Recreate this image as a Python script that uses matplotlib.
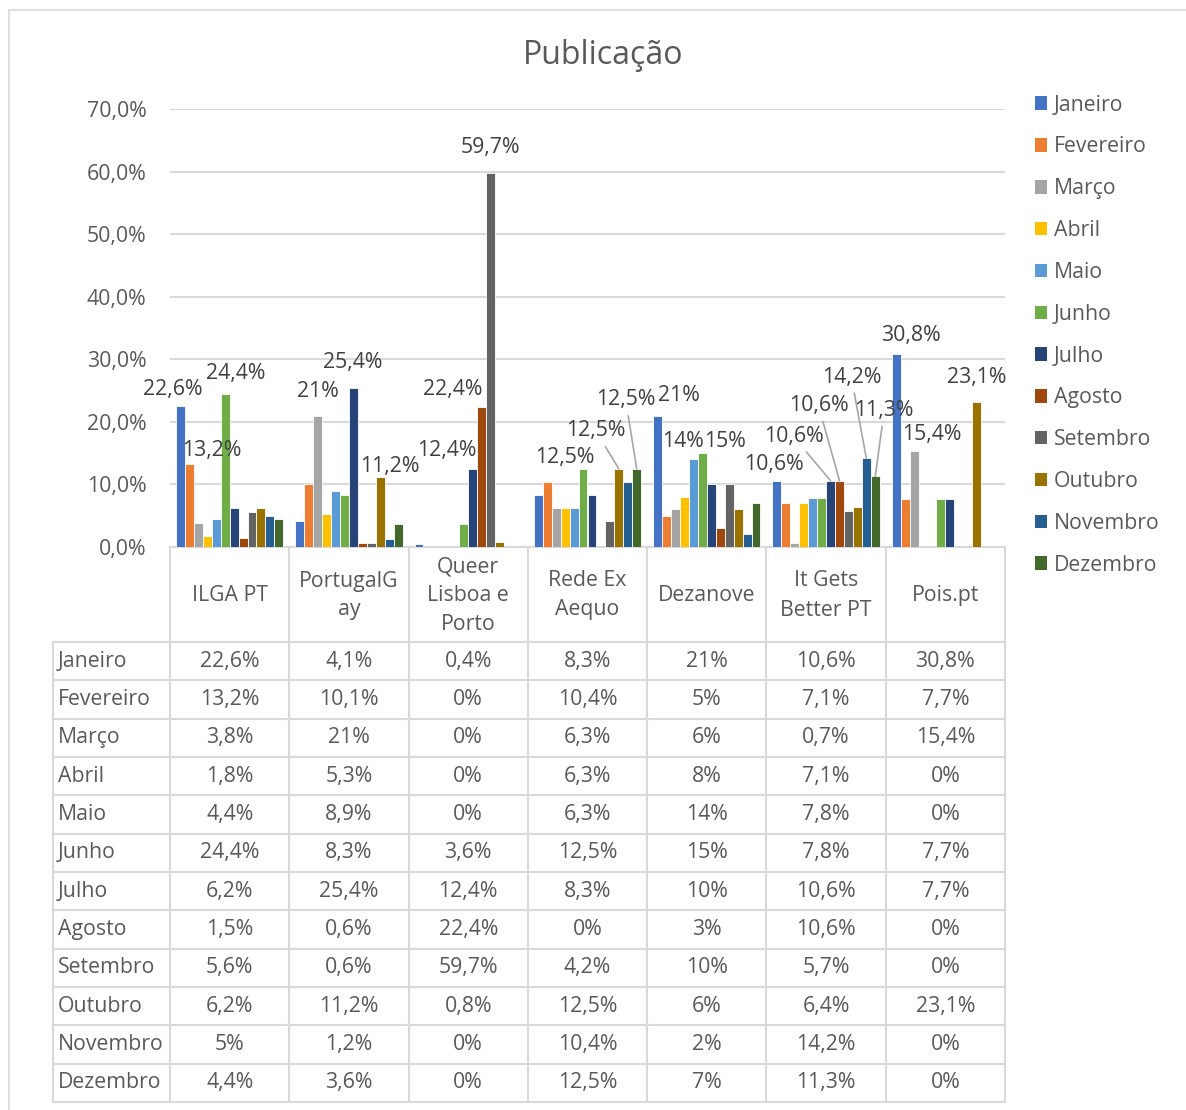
import matplotlib.pyplot as plt
from matplotlib.lines import Line2D
from matplotlib.patches import Patch
import numpy as np

plt.rcParams['font.family'] = ['Open Sans', 'DejaVu Sans']

# Sites (table header) and months (series)
sites = ["ILGA PT", "PortugalG\nay", "Queer\nLisboa e\nPorto", "Rede Ex\nAequo",
         "Dezanove", "It Gets\nBetter PT", "Pois.pt"]
months = ["Janeiro", "Fevereiro", "Março", "Abril", "Maio", "Junho", "Julho",
          "Agosto", "Setembro", "Outubro", "Novembro", "Dezembro"]

# values in %, one list per month, one value per site
janeiro = [22.6, 4.1, 0.4, 8.3, 21, 10.6, 30.8]
fevereiro = [13.2, 10.1, 0, 10.4, 5, 7.1, 7.7]
marco = [3.8, 21, 0, 6.3, 6, 0.7, 15.4]
abril = [1.8, 5.3, 0, 6.3, 8, 7.1, 0]
maio = [4.4, 8.9, 0, 6.3, 14, 7.8, 0]
junho = [24.4, 8.3, 3.6, 12.5, 15, 7.8, 7.7]
julho = [6.2, 25.4, 12.4, 8.3, 10, 10.6, 7.7]
agosto = [1.5, 0.6, 22.4, 0, 3, 10.6, 0]
setembro = [5.6, 0.6, 59.7, 4.2, 10, 5.7, 0]
outubro = [6.2, 11.2, 0.8, 12.5, 6, 6.4, 23.1]
novembro = [5, 1.2, 0, 10.4, 2, 14.2, 0]
dezembro = [4.4, 3.6, 0, 12.5, 7, 11.3, 0]
series = [janeiro, fevereiro, marco, abril, maio, junho, julho,
          agosto, setembro, outubro, novembro, dezembro]

# table text exactly as shown (Excel formatting differs per column)
table_text = [
    ["22,6%", "4,1%", "0,4%", "8,3%", "21%", "10,6%", "30,8%"],
    ["13,2%", "10,1%", "0%", "10,4%", "5%", "7,1%", "7,7%"],
    ["3,8%", "21%", "0%", "6,3%", "6%", "0,7%", "15,4%"],
    ["1,8%", "5,3%", "0%", "6,3%", "8%", "7,1%", "0%"],
    ["4,4%", "8,9%", "0%", "6,3%", "14%", "7,8%", "0%"],
    ["24,4%", "8,3%", "3,6%", "12,5%", "15%", "7,8%", "7,7%"],
    ["6,2%", "25,4%", "12,4%", "8,3%", "10%", "10,6%", "7,7%"],
    ["1,5%", "0,6%", "22,4%", "0%", "3%", "10,6%", "0%"],
    ["5,6%", "0,6%", "59,7%", "4,2%", "10%", "5,7%", "0%"],
    ["6,2%", "11,2%", "0,8%", "12,5%", "6%", "6,4%", "23,1%"],
    ["5%", "1,2%", "0%", "10,4%", "2%", "14,2%", "0%"],
    ["4,4%", "3,6%", "0%", "12,5%", "7%", "11,3%", "0%"],
]

colors = ["#4472C4", "#ED7D31", "#A5A5A5", "#FFC000", "#5B9BD5", "#70AD47",
          "#264478", "#9E480E", "#636363", "#997300", "#255E91", "#43682B"]

# labelled bars: (site, month, label, dx px, dy px, leader line)
labels = [
    (0, 0, "22,6%", -8, 16, False), (0, 1, "13,2%", 22, 14, False),
    (0, 5, "24,4%", 11, 21, False),
    (1, 2, "21%", 0, 24, False), (1, 6, "25,4%", -1, 26, False),
    (1, 9, "11,2%", 10, 10, False),
    (2, 6, "12,4%", -26, 19, False), (2, 7, "22,4%", -29, 17, False),
    (2, 8, "59,7%", 0, 26, False),
    (3, 5, "12,5%", -18, 11, False), (3, 9, "12,5%", -23, 38, True),
    (3, 11, "12,5%", -11, 69, True),
    (4, 0, "21%", 21, 20, False), (4, 4, "14%", -10, 18, False),
    (4, 5, "15%", 23, 12, False),
    (5, 0, "10,6%", -3, 16, False), (5, 6, "10,6%", -37, 44, True),
    (5, 7, "10,6%", -21, 75, True), (5, 10, "14,2%", -15, 81, True),
    (5, 11, "11,3%", 9, 66, True),
    (6, 0, "30,8%", 15, 19, False), (6, 2, "15,4%", 18, 16, False),
    (6, 9, "23,1%", 0, 25, False),
]

W, H = 1186, 1110
txt = "#595959"
grid = "#D9D9D9"
fs = 15.3

fig = plt.figure(figsize=(W / 100, H / 100), dpi=100)

# chart area in pixel coordinates
x0, x1, ytop, ybot = 170, 1005, 109, 547
ax = fig.add_axes([x0 / W, 1 - ybot / H, (x1 - x0) / W, (ybot - ytop) / H])

n = len(months)
bw = 0.9 / n
x = np.arange(len(sites))
for j, (vals, c) in enumerate(zip(series, colors)):
    ax.bar(x + (j - (n - 1) / 2) * bw, vals, bw, color=c, edgecolor="white",
           linewidth=0.6, zorder=3)

for s, m, lab, dx, dy, leader in labels:
    xb = x[s] + (m - (n - 1) / 2) * bw
    yb = series[m][s]
    ap = dict(arrowstyle="-", color="#A6A6A6", lw=1.2, shrinkA=2, shrinkB=0) if leader else None
    ax.annotate(lab, (xb, yb), xytext=(dx, dy), textcoords="offset pixels",
                ha="center", va="center", fontsize=fs, color="#404040",
                arrowprops=ap, zorder=5)

ax.set_xlim(-0.5, len(sites) - 0.5)
ax.set_ylim(0, 70)
ax.set_yticks(np.arange(0, 71, 10))
ax.set_yticklabels([f"{v:.1f}%".replace(".", ",") for v in np.arange(0, 71, 10)],
                   fontsize=fs, color=txt)
ax.tick_params(axis="y", length=0, pad=17)
ax.set_xticks([])
ax.grid(axis="y", color=grid, lw=1.5, zorder=0)
for sp in ["top", "right", "left"]:
    ax.spines[sp].set_visible(False)
ax.spines["bottom"].set_color(grid)
ax.spines["bottom"].set_linewidth(1.5)

# overlay in pixel coordinates for table, title, legend, frame
ov = fig.add_axes([0, 0, 1, 1], zorder=-1)
ov.set_xlim(0, W)
ov.set_ylim(H, 0)
ov.axis("off")

# chart frame
ov.add_line(Line2D([9, W], [10, 10], color=grid, lw=1.2))
ov.add_line(Line2D([9, 9], [10, H], color=grid, lw=1.2))

ov.text(603, 55, "Publicação", ha="center", va="center", fontsize=23, color=txt)

# data table
cw = (x1 - x0) / len(sites)
hdr_bot = 642
rh = (1102 - hdr_bot) / n
lx = 53
for i in range(n + 1):
    yy = hdr_bot + i * rh
    ov.add_line(Line2D([lx, x1], [yy, yy], color=grid, lw=1.5))
ov.add_line(Line2D([lx, lx], [hdr_bot, 1102], color=grid, lw=1.5))
for k in range(len(sites) + 1):
    xx = x0 + k * cw
    ov.add_line(Line2D([xx, xx], [ybot, 1102], color=grid, lw=1.5))
for k, s in enumerate(sites):
    ov.text(x0 + (k + 0.5) * cw, (ybot + hdr_bot) / 2 + 1, s, ha="center", va="center",
            fontsize=fs, color=txt, linespacing=1.5)
for i, m in enumerate(months):
    yy = hdr_bot + (i + 0.5) * rh
    ov.text(lx + 5, yy, m, ha="left", va="center", fontsize=fs, color=txt)
    for k in range(len(sites)):
        ov.text(x0 + (k + 0.5) * cw, yy, table_text[i][k], ha="center", va="center",
                fontsize=fs, color=txt)

# legend
handles = [Patch(facecolor=c, label=m) for m, c in zip(months, colors)]
fig.legend(handles=handles, loc="upper left", bbox_to_anchor=(1024 / W, 1 - 84 / H),
           frameon=False, fontsize=fs, labelcolor=txt, handlelength=0.6,
           handleheight=0.6, handletextpad=0.3, labelspacing=0.98, borderpad=0)

fig.savefig("out.png", dpi=100)
